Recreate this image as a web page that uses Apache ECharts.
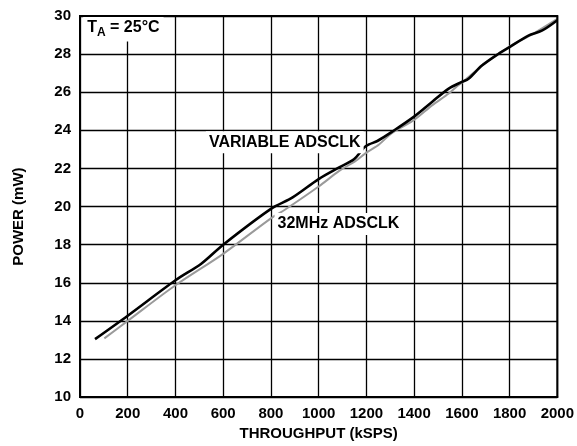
<!DOCTYPE html>
<html>
<head>
<meta charset="utf-8">
<script src="https://cdn.jsdelivr.net/npm/echarts@6/dist/echarts.min.js"></script>
<style>html,body{margin:0;padding:0;background:#fff;}#c{width:577px;height:446px;}</style>
</head>
<body>
<div id="c"></div>
<script>
// Variable ADSCLK (black)
var varX = [63, 200, 400, 508, 600, 800, 891, 1000, 1086, 1148, 1190, 1211, 1246, 1308, 1400, 1475, 1545, 1600, 1628, 1684, 1754, 1800, 1879, 1935, 2000];
var varY = [13.04, 14.27, 16.13, 17.0, 18.0, 19.88, 20.48, 21.44, 22.05, 22.48, 23.09, 23.26, 23.44, 23.93, 24.72, 25.49, 26.19, 26.54, 26.71, 27.40, 28.02, 28.37, 28.97, 29.23, 29.78];
// 32MHz ADSCLK (grey)
var fixX = [102, 200, 400, 600, 800, 863, 1000, 1086, 1155, 1200, 1253, 1308, 1400, 1475, 1545, 1580, 1600, 1700, 1800, 1900, 2000];
var fixY = [13.08, 14.0, 15.87, 17.52, 19.38, 19.87, 21.05, 21.87, 22.39, 22.83, 23.26, 23.87, 24.54, 25.31, 25.93, 26.31, 26.5, 27.55, 28.4, 29.08, 29.85];
var xTicks = [0, 200, 400, 600, 800, 1000, 1200, 1400, 1600, 1800, 2000];
var yTicks = [10, 12, 14, 16, 18, 20, 22, 24, 26, 28, 30];
var xName = 'THROUGHPUT (kSPS)';
var yName = 'POWER (mW)';
var labelTA = ['T', 'A', ' = 25°C'];
var labelVar = 'VARIABLE ADSCLK';
var labelFix = '32MHz ADSCLK';

function zip(a, b) { return a.map(function (v, i) { return [v, b[i]]; }); }

var font = 'Liberation Sans, Arial, sans-serif';
var chart = echarts.init(document.getElementById('c'));
var option = {
  animation: false,
  grid: { left: 80, right: 18, top: 16, bottom: 47 },
  xAxis: {
    type: 'value', min: xTicks[0], max: xTicks[xTicks.length - 1], interval: 200,
    axisLine: { show: true, lineStyle: { color: '#000', width: 2 } },
    axisTick: { show: false },
    splitLine: { show: true, lineStyle: { color: '#000', width: 1.3 } },
    axisLabel: { color: '#000', fontFamily: font, fontWeight: 'bold', fontSize: 15, margin: 9,
      formatter: function (v) { return String(v); } },
    name: xName, nameLocation: 'middle', nameGap: 23,
    nameTextStyle: { color: '#000', fontFamily: font, fontWeight: 'bold', fontSize: 15 }
  },
  yAxis: {
    type: 'value', min: yTicks[0], max: yTicks[yTicks.length - 1], interval: 2,
    axisLine: { show: true, lineStyle: { color: '#000', width: 2 } },
    axisTick: { show: false },
    splitLine: { show: true, lineStyle: { color: '#000', width: 1.3 } },
    axisLabel: { color: '#000', fontFamily: font, fontWeight: 'bold', fontSize: 15, margin: 9 },
    name: yName, nameLocation: 'middle', nameGap: 54,
    nameTextStyle: { color: '#000', fontFamily: font, fontWeight: 'bold', fontSize: 15, padding: [0, 20, 0, 0] }
  },
  series: [{
    type: 'line', data: zip(fixX, fixY), showSymbol: false, smooth: 0.3,
    lineStyle: { color: '#9a9a9a', width: 2 }, z: 3
  }, {
    type: 'line', data: zip(varX, varY), showSymbol: false, smooth: 0.3,
    lineStyle: { color: '#000', width: 2.6 }, z: 4
  }]
};
chart.setOption(option);

var conv = function (p) { return chart.convertToPixel({ xAxisIndex: 0, yAxisIndex: 0 }, p); };
var pTA = conv([30, 29.37]);
var pVar = conv([858, 23.37]);
var pFix = conv([1083, 19.09]);
var pLT = conv([xTicks[0], yTicks[yTicks.length - 1]]);
var pRB = conv([xTicks[xTicks.length - 1], yTicks[0]]);
var txt = { fill: '#000', fontFamily: font, fontWeight: 'bold', fontSize: 16, backgroundColor: '#fff', padding: [3, 3] };
chart.setOption({
  graphic: [{
    type: 'text', x: pTA[0] - 4, y: pTA[1], z: 10,
    style: {
      text: '{a|' + labelTA[0] + '}{s|' + labelTA[1] + '}{a|' + labelTA[2] + '}',
      rich: {
        a: { fontFamily: font, fontWeight: 'bold', fontSize: 16, fill: '#000' },
        s: { fontFamily: font, fontWeight: 'bold', fontSize: 12, fill: '#000', padding: [9, 0, 0, 0] }
      },
      backgroundColor: '#fff', padding: [3, 4], verticalAlign: 'middle', align: 'left'
    }
  }, {
    type: 'text', x: pVar[0], y: pVar[1], z: 10,
    style: Object.assign({ text: labelVar, align: 'center', verticalAlign: 'middle' }, txt)
  }, {
    type: 'text', x: pFix[0], y: pFix[1], z: 10,
    style: Object.assign({ text: labelFix, align: 'center', verticalAlign: 'middle' }, txt)
  }, {
    type: 'rect', z: 20, silent: true,
    shape: { x: pLT[0], y: pLT[1], width: pRB[0] - pLT[0], height: pRB[1] - pLT[1] },
    style: { fill: 'none', stroke: '#000', lineWidth: 2 }
  }]
});
</script>
</body>
</html>
